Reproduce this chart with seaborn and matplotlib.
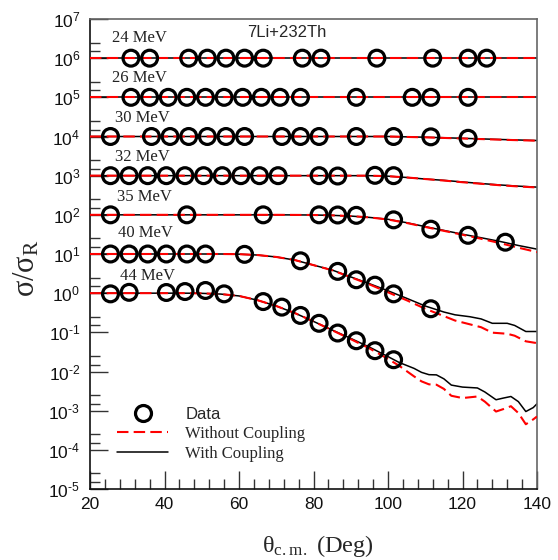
import numpy as np
import pandas as pd
import matplotlib
matplotlib.use("Agg")
import matplotlib.pyplot as plt
import seaborn as sns
from matplotlib.ticker import FixedLocator, NullFormatter
from matplotlib.lines import Line2D

# ---------------- data ----------------
energies = ["24 MeV", "26 MeV", "30 MeV", "32 MeV", "35 MeV", "40 MeV", "44 MeV"]
offsets = [1e6, 1e5, 1e4, 1e3, 1e2, 1e1, 1e0]

# experimental data (ratio to Rutherford, before offset)
d24_x = [31, 36, 46.5, 51.5, 56.5, 61.5, 66.5, 77, 82, 97, 112, 121.5, 126.5]
d24_y = [1.0, 1.0, 1.0, 1.0, 1.0, 1.0, 1.0, 1.0, 1.0, 1.0, 1.0, 1.0, 1.0]
d26_x = [31, 36, 41, 46, 51, 56, 61, 66, 71, 76.5, 91.5, 106.5, 111.5, 121.5]
d26_y = [1.0, 1.0, 1.0, 1.0, 1.0, 1.0, 1.0, 1.0, 1.0, 1.0, 1.0, 1.0, 1.0, 1.0]
d30_x = [25.5, 36.5, 41.5, 46.5, 51.5, 56.5, 61.5, 71.5, 76.5, 81.5, 91.5, 101.5, 111.5, 121.5]
d30_y = [1.0, 1.0, 1.0, 1.0, 1.0, 1.0, 1.0, 1.0, 1.0, 1.0, 1.0, 1.0, 0.98, 0.9]
d32_x = [25.5, 30.5, 35.5, 40.5, 45.5, 50.5, 55.5, 60.5, 65.5, 70.5, 81.5, 86.5, 96.5, 101.5]
d32_y = [1.0, 1.0, 1.0, 1.0, 1.0, 1.0, 1.0, 1.0, 1.0, 1.0, 1.0, 0.98, 1.02, 1.0]
d35_x = [25.5, 46, 66.5, 81.5, 86.5, 91.5, 101.5, 111.5, 121.5, 131.5]
d35_y = [1.0, 1.0, 1.0, 1.0, 0.99, 0.97, 0.745, 0.43, 0.30, 0.20]
d40_x = [25.5, 30.5, 35.5, 40.5, 46, 51, 61.5, 76.5, 86.5, 91.5, 96.5, 101.5, 111.5]
d40_y = [1.0, 1.0, 1.0, 1.0, 1.0, 1.0, 0.98, 0.67, 0.36, 0.22, 0.16, 0.096, 0.040]
d44_x = [25.5, 30.5, 40.5, 45.5, 51, 56, 66.5, 71.5, 76.5, 81.5, 86.5, 91.5, 96.5, 101.5]
d44_y = [0.96, 1.05, 1.04, 1.1, 1.17, 0.96, 0.61, 0.44, 0.27, 0.17, 0.096, 0.061, 0.034, 0.020]

# calculations: with coupling (black) and without coupling (red)
c24_t = [20, 140]
c24_with = [1.0, 1.0]
c24_without = [1.0, 1.0]
c26_t = [20, 140]
c26_with = [1.0, 1.0]
c26_without = [1.0, 1.0]
c30_t = [20, 100, 110, 120, 130, 140]
c30_with = [1.0, 1.0, 0.96, 0.9, 0.84, 0.79]
c30_without = [1.0, 1.0, 0.95, 0.89, 0.83, 0.78]
c32_t = [20, 95, 100, 105, 110, 115, 120, 125, 130, 135, 140]
c32_with = [1.0, 1.0, 0.97, 0.9, 0.82, 0.76, 0.69, 0.63, 0.58, 0.54, 0.51]
c32_without = [1.0, 1.0, 0.97, 0.9, 0.82, 0.75, 0.68, 0.62, 0.57, 0.53, 0.50]
c35_t = [20, 70, 80, 85, 90, 95, 100, 105, 110, 115, 120, 125, 130, 135, 140]
c35_with = [1.0, 1.0, 0.99, 0.97, 0.93, 0.86, 0.77, 0.63, 0.5, 0.4, 0.32, 0.26, 0.21, 0.165, 0.133]
c35_without = [1.0, 1.0, 0.99, 0.97, 0.93, 0.86, 0.76, 0.62, 0.49, 0.39, 0.31, 0.245, 0.19, 0.145, 0.112]
c40_t = [20, 55, 60, 65, 70, 75, 80, 85, 90, 95, 100, 105, 110, 115, 118, 122, 125, 128, 132, 134, 137, 140]
c40_with = [1.0, 1.0, 0.99, 0.94, 0.84, 0.70, 0.52, 0.39, 0.26, 0.175, 0.115, 0.074, 0.047, 0.033,
            0.028, 0.025, 0.022, 0.017, 0.017, 0.015, 0.0105, 0.0105]
c40_without = [1.0, 1.0, 0.99, 0.94, 0.84, 0.70, 0.52, 0.385, 0.255, 0.168, 0.105, 0.066, 0.040, 0.026,
               0.020, 0.016, 0.0135, 0.0098, 0.0092, 0.0082, 0.0059, 0.0053]
c44_t = [20, 45, 50, 55, 60, 65, 70, 75, 80, 85, 90, 95, 100, 103, 107, 109, 111, 113, 115, 117,
         120, 124, 126, 129, 131, 133, 135, 137, 139, 140]
c44_with = [1.0, 1.0, 0.99, 0.95, 0.85, 0.66, 0.47, 0.31, 0.19, 0.115, 0.07, 0.042, 0.024, 0.017,
            0.012, 0.0095, 0.0083, 0.0082, 0.0065, 0.0045, 0.0040, 0.0038, 0.0030, 0.0019, 0.0021,
            0.0023, 0.0017, 0.00095, 0.0012, 0.0015]
c44_without = [1.0, 1.0, 0.99, 0.95, 0.85, 0.66, 0.47, 0.31, 0.19, 0.113, 0.067, 0.039, 0.021, 0.014,
               0.0075, 0.0056, 0.0047, 0.0046, 0.0036, 0.0024, 0.0021, 0.0023, 0.0017, 0.00095, 0.0011,
               0.0013, 0.00087, 0.00045, 0.0006, 0.00071]

data_x = [d24_x, d26_x, d30_x, d32_x, d35_x, d40_x, d44_x]
data_y = [d24_y, d26_y, d30_y, d32_y, d35_y, d40_y, d44_y]
calc_t = [c24_t, c26_t, c30_t, c32_t, c35_t, c40_t, c44_t]
calc_with = [c24_with, c26_with, c30_with, c32_with, c35_with, c40_with, c44_with]
calc_without = [c24_without, c26_without, c30_without, c32_without, c35_without, c40_without, c44_without]

# label anchors (deg, log10 y) for energy labels
label_x = [33.4, 33.4, 34.1, 34.1, 34.6, 34.9, 35.4]
label_logy = [6.52, 5.50, 4.47, 3.48, 2.46, 1.54, 0.44]

# ---------------- plot ----------------
sns.set_style("ticks")
plt.rcParams["font.family"] = ["Liberation Sans", "DejaVu Sans"]

W, H = 558, 560
fig = plt.figure(figsize=(W / 100, H / 100), dpi=100)
ax = fig.add_axes([90 / W, 1 - 489 / H, 447 / W, 470 / H])

red_dash = (0, (5.5, 2.5))
for i, off in enumerate(offsets):
    t = np.array(calc_t[i], dtype=float)
    sns.lineplot(x=t, y=np.array(calc_with[i]) * off, ax=ax, color="black",
                 lw=1.1, sort=False, estimator=None, zorder=2)
    sns.lineplot(x=t, y=np.array(calc_without[i]) * off, ax=ax, color="red",
                 lw=1.5, linestyle=red_dash, sort=False, estimator=None, zorder=3)
    sns.scatterplot(x=data_x[i], y=np.array(data_y[i]) * off, ax=ax, marker="o", s=130,
                    facecolors="none", edgecolor="black", linewidth=2.3, zorder=5)
    ax.text(label_x[i], 10 ** label_logy[i], energies[i], family="Liberation Serif",
            fontsize=12, ha="center", va="center", color="#222222")

ax.set_yscale("log")
ax.set_xlim(20, 140)
ax.set_ylim(1e-5, 1e7)

# ticks
ax.xaxis.set_major_locator(FixedLocator([20, 40, 60, 80, 100, 120, 140]))
ax.xaxis.set_minor_locator(FixedLocator(list(range(20, 141, 4))))
ax.set_xticklabels(["20", "40", "60", "80", "100", "120", "140"])
decades = list(range(-5, 8))
ax.yaxis.set_major_locator(FixedLocator([10.0 ** k for k in decades]))
ax.set_yticklabels([r"$\mathregular{10^{%s}}$" % (("\u2010%d" % -k) if k < 0 else "%d" % k)
                    for k in decades])
minors = []
for k in range(-5, 7):
    minors += [1.5 * 10.0 ** k, 2.5 * 10.0 ** k]
ax.yaxis.set_minor_locator(FixedLocator(minors))
ax.yaxis.set_minor_formatter(NullFormatter())

ax.tick_params(axis="both", which="major", direction="in", length=13, width=1.0,
               color="#333333", labelsize=12.5, labelcolor="#111111")
ax.tick_params(axis="both", which="minor", direction="in", length=7, width=1.0, color="#333333")
ax.tick_params(axis="x", which="major", pad=6)
ax.tick_params(axis="y", which="major", pad=7)
ax.tick_params(top=False, right=False, which="both")

for side in ["left", "bottom"]:
    ax.spines[side].set_color("#111111")
    ax.spines[side].set_linewidth(1.2)
for side in ["top", "right"]:
    ax.spines[side].set_visible(True)
    ax.spines[side].set_color("#666666")
    ax.spines[side].set_linewidth(1.2)

ax.text(0.441, 0.972, "7Li+232Th", transform=ax.transAxes, fontsize=12,
        ha="center", va="center", family="Liberation Sans")

ax.set_xlabel("")
ax.set_ylabel("")
fig.text(318 / W, 1 - 546 / H, r"$\mathregular{\theta_{c.m.}}$ (Deg)", family="Liberation Serif",
         fontsize=17.5, ha="center", va="center")
fig.text(27 / W, 1 - 268 / H, r"$\mathregular{\sigma/\sigma_R}$", family="Liberation Serif",
         fontsize=22, ha="center", va="center", rotation=90)

# legend
handles = [
    Line2D([], [], ls="none", marker="o", ms=11.5, mfc="none", mec="black", mew=2.3),
    Line2D([], [], color="red", lw=1.5, ls=(0, (5.5, 2.5))),
    Line2D([], [], color="black", lw=1.1),
]
leg = ax.legend(handles, ["Data", "Without Coupling", "With Coupling"], loc="upper left",
                bbox_to_anchor=(0.06, 0.175), frameon=False, borderaxespad=0, borderpad=0,
                handlelength=3.1, handletextpad=1.0, labelspacing=0.25,
                prop={"family": "Liberation Serif", "size": 12})
leg.get_texts()[0].set_family("Liberation Sans")

fig.savefig("out.png", dpi=100)
